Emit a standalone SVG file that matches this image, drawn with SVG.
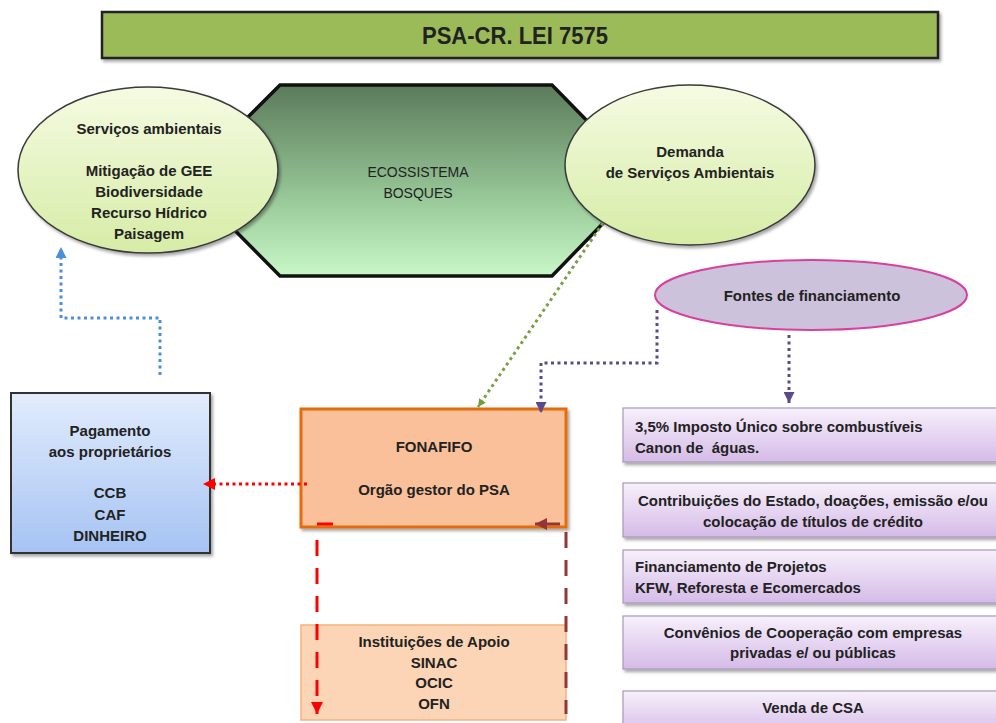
<svg xmlns="http://www.w3.org/2000/svg" width="996" height="723" viewBox="0 0 996 723">
<style>
text{font-family:"Liberation Sans",Arial,sans-serif;font-size:15px;font-weight:bold;fill:#222;white-space:pre}
.c{text-anchor:middle}
.n{font-weight:normal;font-size:14px}
.dot{fill:none;stroke-width:3;stroke-dasharray:3 3.5}
.dash{fill:none;stroke-width:3;stroke-dasharray:16 12}
.pbox{fill:url(#gPur);stroke:#a898b8;stroke-width:1.2;filter:url(#sh)}
</style>
<defs>
<linearGradient id="gEll" x1="0" y1="0" x2="0" y2="1"><stop offset="0" stop-color="#f5fbe2"/><stop offset="1" stop-color="#d6eca6"/></linearGradient>
<linearGradient id="gHex" x1="0" y1="0" x2="0" y2="1"><stop offset="0" stop-color="#5b7a5b"/><stop offset="0.55" stop-color="#93c293"/><stop offset="1" stop-color="#c8f8c8"/></linearGradient>
<linearGradient id="gPur" x1="0" y1="0" x2="0" y2="1"><stop offset="0" stop-color="#f7f0fb"/><stop offset="1" stop-color="#d5bbe8"/></linearGradient>
<linearGradient id="gBlue" x1="0" y1="0" x2="0" y2="1"><stop offset="0" stop-color="#e2ecfc"/><stop offset="1" stop-color="#a5c3f3"/></linearGradient>
<filter id="sh" x="-5%" y="-10%" width="115%" height="130%"><feDropShadow dx="2" dy="2.5" stdDeviation="1.5" flood-color="#000" flood-opacity="0.35"/></filter>
<marker id="mBlue" viewBox="0 0 10 10" refX="10" refY="5" markerWidth="11" markerHeight="11" markerUnits="userSpaceOnUse" orient="auto"><path d="M0,0 L10,5 L0,10 z" fill="#4d8ed8"/></marker>
<marker id="mGreen" viewBox="0 0 10 10" refX="10" refY="5" markerWidth="8" markerHeight="8" markerUnits="userSpaceOnUse" orient="auto"><path d="M0,0 L10,5 L0,10 z" fill="#6f9e3a"/></marker>
<marker id="mPur" viewBox="0 0 10 10" refX="10" refY="5" markerWidth="11" markerHeight="11" markerUnits="userSpaceOnUse" orient="auto"><path d="M0,0 L10,5 L0,10 z" fill="#5a4a8a"/></marker>
<marker id="mRed" viewBox="0 0 10 10" refX="10" refY="5" markerWidth="12" markerHeight="12" markerUnits="userSpaceOnUse" orient="auto"><path d="M0,0 L10,5 L0,10 z" fill="#ff0000"/></marker>
<marker id="mBrown" viewBox="0 0 10 10" refX="10" refY="5" markerWidth="12" markerHeight="12" markerUnits="userSpaceOnUse" orient="auto"><path d="M0,0 L10,5 L0,10 z" fill="#943634"/></marker>
</defs>
<rect width="996" height="723" fill="#ffffff"/>

<g id="title">
<rect x="102" y="12" width="836" height="46" fill="#9bbb59" stroke="#222" stroke-width="2.5" filter="url(#sh)"/>
<text x="515" y="44" class="c" style="font-size:23px" textLength="186" lengthAdjust="spacingAndGlyphs">PSA-CR. LEI 7575</text>
</g>

<g id="ecossistema">
<polygon points="280,85 552,85 645,180 552,276 280,276 185,180" fill="url(#gHex)" stroke="#111" stroke-width="3.5"/>
<text x="418" y="177" class="c n">ECOSSISTEMA</text>
<text x="418" y="198" class="c n">BOSQUES</text>
</g>

<g id="servicos">
<ellipse cx="148" cy="170" rx="130" ry="83" fill="url(#gEll)" stroke="#3a3a3a" stroke-width="1.5" filter="url(#sh)"/>
<text x="149" y="134" class="c">Serviços ambientais</text>
<text x="149" y="176" class="c">Mitigação de GEE</text>
<text x="149" y="197" class="c">Biodiversidade</text>
<text x="149" y="218" class="c">Recurso Hídrico</text>
<text x="149" y="239" class="c">Paisagem</text>
</g>

<g id="demanda">
<ellipse cx="690" cy="165" rx="125" ry="80" fill="url(#gEll)" stroke="#3a3a3a" stroke-width="1.5" filter="url(#sh)"/>
<text x="690" y="157" class="c">Demanda</text>
<text x="690" y="178" class="c">de Serviços Ambientais</text>
</g>

<g id="fontes">
<ellipse cx="811" cy="295" rx="156" ry="35" fill="#cdc2dc" stroke="#d8409f" stroke-width="2"/>
<text x="812" y="301" class="c">Fontes de financiamento</text>
</g>

<g id="pagamento">
<rect x="11" y="393" width="199" height="160" fill="url(#gBlue)" stroke="#333" stroke-width="2" filter="url(#sh)"/>
<text x="110" y="436" class="c">Pagamento</text>
<text x="110" y="457" class="c">aos proprietários</text>
<text x="110" y="498" class="c">CCB</text>
<text x="110" y="520" class="c">CAF</text>
<text x="110" y="541" class="c">DINHEIRO</text>
</g>

<g id="fonafifo">
<rect x="301" y="409" width="265" height="118" fill="#f9c09a" stroke="#e46c0a" stroke-width="3" filter="url(#sh)"/>
<text x="434" y="452" class="c">FONAFIFO</text>
<text x="434" y="495" class="c">Orgão gestor do PSA</text>
</g>

<g id="instituicoes">
<rect x="301" y="625" width="265" height="95" fill="#fcd5b6" stroke="#f2b27e" stroke-width="1.5"/>
<text x="434" y="647" class="c">Instituições de Apoio</text>
<text x="434" y="668" class="c">SINAC</text>
<text x="434" y="688" class="c">OCIC</text>
<text x="434" y="709" class="c">OFN</text>
</g>

<g id="fonte1">
<rect x="623" y="408" width="380" height="54" class="pbox"/>
<text x="635" y="432">3,5% Imposto Único sobre combustíveis</text>
<text x="635" y="453">Canon de  águas.</text>
</g>
<g id="fonte2">
<rect x="623" y="483" width="380" height="54" class="pbox"/>
<text x="813" y="506" class="c">Contribuições do Estado, doações, emissão e/ou</text>
<text x="813" y="527" class="c">colocação de títulos de crédito</text>
</g>
<g id="fonte3">
<rect x="623" y="550" width="380" height="53" class="pbox"/>
<text x="635" y="572">Financiamento de Projetos</text>
<text x="635" y="593">KFW, Reforesta e Ecomercados</text>
</g>
<g id="fonte4">
<rect x="623" y="616" width="380" height="53" class="pbox"/>
<text x="813" y="638" class="c">Convênios de Cooperação com empresas</text>
<text x="813" y="658" class="c">privadas e/ ou públicas</text>
</g>
<g id="fonte5">
<rect x="623" y="691" width="380" height="45" class="pbox"/>
<text x="813" y="713" class="c">Venda de CSA</text>
</g>

<g id="connectors">
<path d="M160,375 L160,318 L61,318 L61,247" class="dot" stroke="#4d8ed8" marker-end="url(#mBlue)"/>
<path d="M603,223 L478,407" class="dot" stroke="#78a040" stroke-width="2" marker-end="url(#mGreen)"/>
<path d="M657,310 L657,363 L541,363 L541,413" class="dot" stroke="#5a4a8a" marker-end="url(#mPur)"/>
<path d="M789,335 L789,403" class="dot" stroke="#5a4a8a" marker-end="url(#mPur)"/>
<path d="M307,484 L203,484" class="dot" stroke="#ff0000" marker-end="url(#mRed)"/>
<path d="M333,524 L317,524" fill="none" stroke="#ff0000" stroke-width="3"/>
<path d="M317,540 L317,714" class="dash" stroke="#ff0000" marker-end="url(#mRed)"/>
<path d="M560,524 L535,524" fill="none" stroke="#943634" stroke-width="3" marker-end="url(#mBrown)"/>
<path d="M566,532 L566,714" class="dash" stroke="#943634"/>
</g>
</svg>
